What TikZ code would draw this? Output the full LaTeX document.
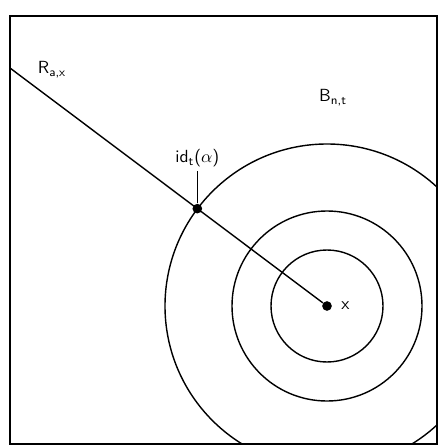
\documentclass[tikz,border=0pt]{standalone}
\usepackage{tikz}
\usetikzlibrary{positioning, calc}

\begin{document}
\begin{tikzpicture}[
    x=0.02cm, y=-0.02cm,
    ring/.style={line width=0.8pt},
    frame/.style={line width=1pt},
    dot/.style={circle, fill=black, inner sep=0pt, minimum size=5.5pt},
    lbl/.style={font=\sffamily, inner sep=1pt}
  ]
    \useasboundingbox (0,0) rectangle (440,446);
    \coordinate (ctr) at (327,306);
    \coordinate (rstart) at (10,68);

    \draw[frame] (10,16) rectangle (437,444);
    \begin{scope}
      \clip (10,16) rectangle (437,444);
      \draw[ring] (ctr) circle[radius=56];
      \draw[ring] (ctr) circle[radius=95];
      \draw[ring] (ctr) circle[radius=162];
    \end{scope}

    \node[dot] (cdot) at (ctr) {};
    \node[dot] (hit) at ($(ctr)!162/396!(rstart)$) {};
    \draw[ring] (rstart) -- (cdot);

    \coordinate (tick) at ($(hit)+(0,-38)$);
    \draw[ring] (hit) -- (tick);

    \node[lbl, above=1pt of tick] (idlbl) {id\textsubscript{t}($\alpha$)};
    \node[lbl] (rlbl) at (52,70) {R\textsubscript{a,x}};
    \node[lbl] (blbl) at (333,98) {B\textsubscript{n,t}};
    \node[lbl, right=4pt of cdot] (xlbl) {x};
  \end{tikzpicture}
\end{document}
